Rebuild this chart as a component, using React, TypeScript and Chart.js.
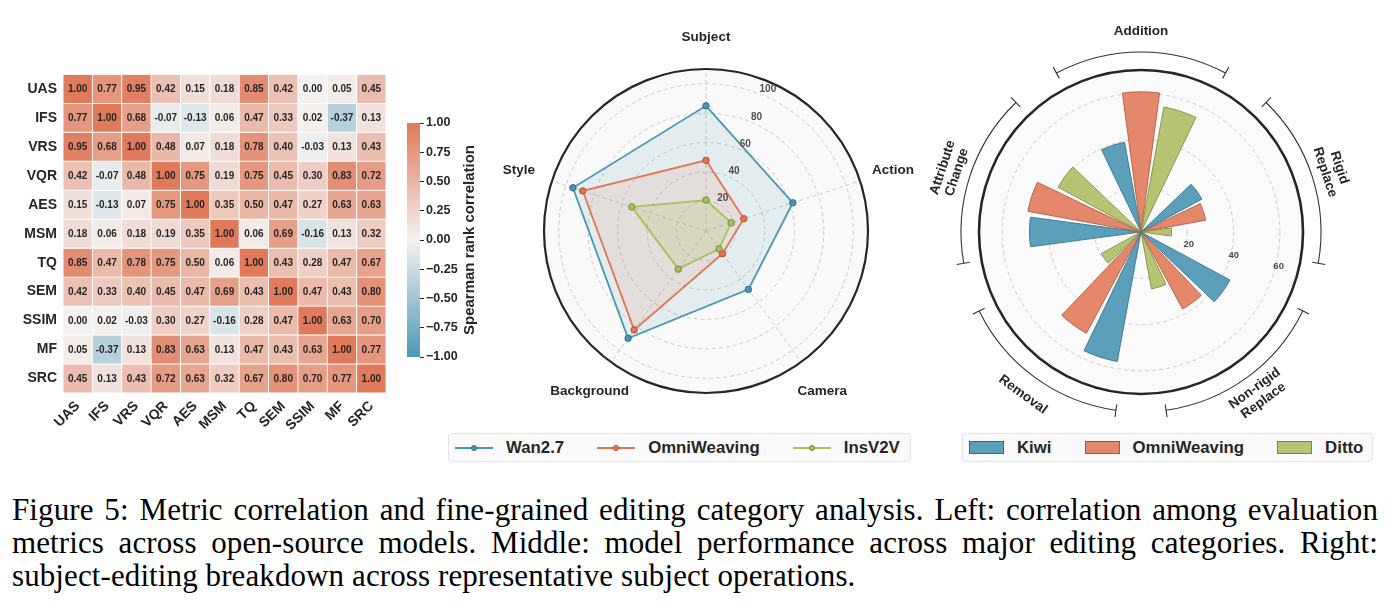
import React, { useEffect, useRef } from 'react';
import { Chart, registerables } from 'chart.js';

Chart.register(...registerables);

const SANS = "'Liberation Sans', Arial, Helvetica, sans-serif";
const SERIF = "'Liberation Serif', 'Times New Roman', serif";
Chart.defaults.font.family = SANS;
Chart.defaults.color = '#262626';

// ---------------- Left panel: Spearman correlation between metrics ----------------
const metrics = ['UAS', 'IFS', 'VRS', 'VQR', 'AES', 'MSM', 'TQ', 'SEM', 'SSIM', 'MF', 'SRC'];
const corrUAS = [1.0, 0.77, 0.95, 0.42, 0.15, 0.18, 0.85, 0.42, 0.0, 0.05, 0.45];
const corrIFS = [0.77, 1.0, 0.68, -0.07, -0.13, 0.06, 0.47, 0.33, 0.02, -0.37, 0.13];
const corrVRS = [0.95, 0.68, 1.0, 0.48, 0.07, 0.18, 0.78, 0.4, -0.03, 0.13, 0.43];
const corrVQR = [0.42, -0.07, 0.48, 1.0, 0.75, 0.19, 0.75, 0.45, 0.3, 0.83, 0.72];
const corrAES = [0.15, -0.13, 0.07, 0.75, 1.0, 0.35, 0.5, 0.47, 0.27, 0.63, 0.63];
const corrMSM = [0.18, 0.06, 0.18, 0.19, 0.35, 1.0, 0.06, 0.69, -0.16, 0.13, 0.32];
const corrTQ = [0.85, 0.47, 0.78, 0.75, 0.5, 0.06, 1.0, 0.43, 0.28, 0.47, 0.67];
const corrSEM = [0.42, 0.33, 0.4, 0.45, 0.47, 0.69, 0.43, 1.0, 0.47, 0.43, 0.8];
const corrSSIM = [0.0, 0.02, -0.03, 0.3, 0.27, -0.16, 0.28, 0.47, 1.0, 0.63, 0.7];
const corrMF = [0.05, -0.37, 0.13, 0.83, 0.63, 0.13, 0.47, 0.43, 0.63, 1.0, 0.77];
const corrSRC = [0.45, 0.13, 0.43, 0.72, 0.63, 0.32, 0.67, 0.8, 0.7, 0.77, 1.0];
const corrRows = [corrUAS, corrIFS, corrVRS, corrVQR, corrAES, corrMSM, corrTQ, corrSEM, corrSSIM, corrMF, corrSRC];
const colorbarTicks = [-1, -0.75, -0.5, -0.25, 0, 0.25, 0.5, 0.75, 1];

// ---------------- Middle panel: scores per editing category ----------------
const radarCategories = ['Subject', 'Action', 'Camera', 'Background', 'Style'];
const wanScores = [85, 62, 49, 90, 95];
const omniRadarScores = [48, 27, 19, 83, 88];
const insScores = [21, 18, 15, 32, 53];
const radarTicks = [20, 40, 60, 80, 100];

// ---------------- Right panel: subject-editing operations ----------------
const editGroups = ['Addition', 'Rigid\nReplace', 'Non-rigid\nReplace', 'Removal', 'Attribute\nChange'];
const kiwiScores = [39.4, 29.9, 43.7, 56.9, 48.2];
const omniEditScores = [60.6, 28.4, 37.8, 49.7, 49.7];
const dittoScores = [54.9, 13.2, 25.0, 19.5, 40.7];
const polarTicks = [20, 40, 60];

const captionLines = [
  'Figure 5: Metric correlation and fine-grained editing category analysis. Left: correlation among evaluation',
  'metrics across open-source models. Middle: model performance across major editing categories. Right:',
  'subject-editing breakdown across representative subject operations.',
];

// ---------------- styling ----------------
const NEG = [76, 154, 182];
const MID = [244, 242, 241];
const POS = [224, 122, 90];
const rgb = (c: number[]) => `rgb(${c.map((v) => Math.round(v)).join(',')})`;
function corrColor(v: number) {
  const t = Math.max(-1, Math.min(1, v));
  const end = t < 0 ? NEG : POS;
  const f = Math.abs(t);
  return rgb(MID.map((c, i) => c + (end[i] - c) * f));
}

const radarSeries = [
  { name: 'Wan2.7', scores: wanScores, line: '#4a97b4', edge: '#2e6f87', fill: 'rgba(74,151,180,0.13)' },
  { name: 'OmniWeaving', scores: omniRadarScores, line: '#e6734f', edge: '#b34f30', fill: 'rgba(230,115,79,0.12)' },
  { name: 'InsV2V', scores: insScores, line: '#a9c05b', edge: '#73883a', fill: 'rgba(169,192,91,0.2)' },
];

const editSeries = [
  { name: 'Kiwi', scores: kiwiScores, fill: '#5b9fba', edge: '#2f6c83' },
  { name: 'OmniWeaving', scores: omniEditScores, fill: '#e5876a', edge: '#a9543a' },
  { name: 'Ditto', scores: dittoScores, fill: '#b7c474', edge: '#76853a' },
];

const deg = (d: number) => (d * Math.PI) / 180;

// ---------------- heatmap ----------------
const cellValuePlugin = {
  id: 'cellValues',
  afterDatasetsDraw(chart: any) {
    const ctx = chart.ctx;
    ctx.save();
    ctx.font = `bold 10px ${SANS}`;
    ctx.fillStyle = '#262626';
    ctx.textAlign = 'center';
    ctx.textBaseline = 'middle';
    corrRows.forEach((row, r) => {
      const meta = chart.getDatasetMeta(r);
      meta.data.forEach((bar: any, c: number) => {
        const p = bar.getProps(['x', 'y', 'base'], true);
        ctx.fillText(row[c].toFixed(2), p.x, (p.y + p.base) / 2 + 0.5);
      });
    });
    ctx.restore();
  },
};

function heatmapConfig(): any {
  return {
    type: 'bar',
    data: {
      labels: metrics,
      datasets: metrics.map((name, r) => ({
        label: name,
        data: metrics.map(() => [r, r + 1]),
        backgroundColor: corrRows[r].map(corrColor),
        borderColor: '#ffffff',
        borderWidth: 0.8,
        borderSkipped: false,
        grouped: false,
        barPercentage: 1,
        categoryPercentage: 1,
      })),
    },
    options: {
      animation: false,
      responsive: false,
      devicePixelRatio: 1,
      layout: { padding: { left: 0, top: 10, right: 14, bottom: 0 } },
      plugins: { legend: { display: false }, tooltip: { enabled: false } },
      scales: {
        x: {
          type: 'category',
          grid: { display: false, drawTicks: false },
          border: { display: false },
          ticks: {
            autoSkip: false,
            minRotation: 45,
            maxRotation: 45,
            padding: 5,
            color: '#262626',
            font: { size: 14, weight: 'bold' },
          },
          afterFit: (s: any) => {
            s.height = 47;
          },
        },
        y: {
          type: 'linear',
          min: 0,
          max: metrics.length,
          reverse: true,
          grid: { display: false, drawTicks: false },
          border: { display: false },
          afterBuildTicks: (s: any) => {
            s.ticks = metrics.map((_, i) => ({ value: i + 0.5 }));
          },
          ticks: {
            autoSkip: false,
            padding: 6,
            color: '#262626',
            font: { size: 14, weight: 'bold' },
            callback: (v: number) => metrics[Math.floor(v)],
          },
          afterFit: (s: any) => {
            s.width = 63;
          },
        },
      },
    },
    plugins: [cellValuePlugin],
  };
}

// ---------------- colorbar ----------------
const colorbarTitlePlugin = {
  id: 'colorbarTitle',
  afterDraw(chart: any) {
    const { ctx, chartArea } = chart;
    ctx.save();
    ctx.translate(70, (chartArea.top + chartArea.bottom) / 2);
    ctx.rotate(-Math.PI / 2);
    ctx.font = `bold 15px ${SANS}`;
    ctx.fillStyle = '#262626';
    ctx.textAlign = 'center';
    ctx.textBaseline = 'middle';
    ctx.fillText('Spearman rank correlation', 0, 0);
    ctx.restore();
  },
};

function colorbarConfig(): any {
  return {
    type: 'bar',
    data: {
      labels: ['ρ'],
      datasets: [
        {
          data: [[colorbarTicks[0], colorbarTicks[colorbarTicks.length - 1]]],
          backgroundColor: (c: any) => {
            const area = c.chart.chartArea;
            if (!area) return corrColor(0);
            const g = c.chart.ctx.createLinearGradient(0, area.bottom, 0, area.top);
            g.addColorStop(0, corrColor(-1));
            g.addColorStop(0.5, corrColor(0));
            g.addColorStop(1, corrColor(1));
            return g;
          },
          borderWidth: 0,
          barPercentage: 1,
          categoryPercentage: 1,
        },
      ],
    },
    options: {
      animation: false,
      responsive: false,
      devicePixelRatio: 1,
      layout: { padding: { left: 7, top: 13, right: 0, bottom: 13 } },
      plugins: { legend: { display: false }, tooltip: { enabled: false } },
      scales: {
        x: { display: false },
        y: {
          position: 'right',
          min: -1,
          max: 1,
          afterBuildTicks: (s: any) => {
            s.ticks = colorbarTicks.map((v) => ({ value: v }));
          },
          afterFit: (s: any) => {
            s.width = 60;
          },
          grid: { drawOnChartArea: false, drawTicks: true, tickLength: 4, color: '#262626', lineWidth: 1 },
          border: { display: false },
          ticks: {
            padding: 2,
            color: '#262626',
            font: { size: 12.5, weight: 'bold' },
            callback: (v: number) => (v < 0 ? '\u2212' : '') + Math.abs(v).toFixed(2),
          },
        },
      },
    },
    plugins: [colorbarTitlePlugin],
  };
}

// ---------------- radar ----------------
const radarDecor = {
  id: 'radarDecor',
  beforeDraw(chart: any) {
    const s = chart.scales.r;
    const ctx = chart.ctx;
    ctx.save();
    ctx.beginPath();
    ctx.arc(s.xCenter, s.yCenter, s.drawingArea, 0, Math.PI * 2);
    ctx.fillStyle = '#fafafa';
    ctx.fill();
    ctx.restore();
  },
  afterDraw(chart: any) {
    const s = chart.scales.r;
    const ctx = chart.ctx;
    const cx = s.xCenter;
    const cy = s.yCenter;
    ctx.save();
    ctx.beginPath();
    ctx.arc(cx, cy, s.drawingArea, 0, Math.PI * 2);
    ctx.lineWidth = 2.2;
    ctx.strokeStyle = '#262626';
    ctx.stroke();

    ctx.textAlign = 'center';
    ctx.textBaseline = 'middle';
    ctx.font = `bold 10px ${SANS}`;
    ctx.fillStyle = '#4d4d4d';
    radarTicks.forEach((v) => {
      const d = s.getDistanceFromCenterForValue(v);
      ctx.fillText(String(v), cx + d * Math.sin(deg(22.5)) + 5.5, cy - d * Math.cos(deg(22.5)) - 5.3);
    });

    ctx.font = `bold 13.5px ${SANS}`;
    ctx.fillStyle = '#262626';
    radarCategories.forEach((name, i) => {
      const up = Math.max(0, Math.cos((i * 2 * Math.PI) / radarCategories.length));
      const p = s.getPointPosition(i, s.drawingArea * 1.222 - 4 * up);
      ctx.fillText(name, p.x, p.y);
    });
    ctx.restore();
  },
};

function radarConfig(): any {
  return {
    type: 'radar',
    data: {
      labels: radarCategories,
      datasets: radarSeries.map((m, i) => ({
        label: m.name,
        data: m.scores,
        borderColor: m.line,
        backgroundColor: m.fill,
        borderWidth: 1.8,
        fill: true,
        pointRadius: 3.2,
        pointBackgroundColor: m.line,
        pointBorderColor: m.edge,
        pointBorderWidth: 1,
        order: radarSeries.length - 1 - i,
      })),
    },
    options: {
      animation: false,
      responsive: false,
      devicePixelRatio: 1,
      layout: { padding: { left: 64, right: 72, top: 69, bottom: 37 } },
      elements: { line: { tension: 0 } },
      plugins: { legend: { display: false }, tooltip: { enabled: false } },
      scales: {
        r: {
          min: 0,
          max: 110,
          afterBuildTicks: (s: any) => {
            s.ticks = [0, ...radarTicks].map((v) => ({ value: v }));
          },
          ticks: { display: false },
          pointLabels: { display: false },
          grid: { circular: true, color: '#c6c6c6', lineWidth: 0.9 },
          border: { dash: [4, 3] },
          angleLines: { display: true, color: '#c6c6c6', lineWidth: 0.9, borderDash: [4, 3] },
        },
      },
    },
    plugins: [radarDecor],
  };
}

// ---------------- polar bars ----------------
const BAR_SPAN = 15.3; // angular width of one bar, degrees
const BAR_STEP = 18; // distance between bar centres within a group
const GROUP_STEP = 360 / editGroups.length;

const slotValues: number[] = [];
const slotAngles: number[] = [];
const slotFill: string[] = [];
const slotEdge: string[] = [];
const slotLabels: string[] = [];
editGroups.forEach((g, gi) => {
  editSeries.forEach((m, mi) => {
    slotValues.push(m.scores[gi]);
    slotAngles.push(BAR_SPAN);
    slotFill.push(m.fill);
    slotEdge.push(m.edge);
    slotLabels.push(`${g.replace('\n', ' ')} · ${m.name}`);
    const gap =
      mi < editSeries.length - 1
        ? BAR_STEP - BAR_SPAN
        : GROUP_STEP - (editSeries.length - 1) * BAR_STEP - BAR_SPAN;
    slotValues.push(0);
    slotAngles.push(gap);
    slotFill.push('rgba(0,0,0,0)');
    slotEdge.push('rgba(0,0,0,0)');
    slotLabels.push('');
  });
});

const polarDecor = {
  id: 'polarDecor',
  beforeDraw(chart: any) {
    const s = chart.scales.r;
    const ctx = chart.ctx;
    ctx.save();
    ctx.beginPath();
    ctx.arc(s.xCenter, s.yCenter, s.drawingArea, 0, Math.PI * 2);
    ctx.fillStyle = '#fbfbfb';
    ctx.fill();
    ctx.restore();
  },
  afterDraw(chart: any) {
    const s = chart.scales.r;
    const ctx = chart.ctx;
    const cx = s.xCenter;
    const cy = s.yCenter;
    const R = s.drawingArea;
    ctx.save();
    ctx.beginPath();
    ctx.arc(cx, cy, R, 0, Math.PI * 2);
    ctx.lineWidth = 2.6;
    ctx.strokeStyle = '#262626';
    ctx.stroke();

    ctx.textAlign = 'center';
    ctx.textBaseline = 'middle';
    ctx.font = `bold 9.5px ${SANS}`;
    ctx.fillStyle = '#4d4d4d';
    polarTicks.forEach((v) => {
      const d = s.getDistanceFromCenterForValue(v) + 3;
      ctx.fillText(String(v), cx + d * Math.cos(deg(14)), cy + d * Math.sin(deg(14)));
    });

    const arcR = (R * 180) / 162;
    const tickIn = (R * 174) / 162;
    const tickOut = (R * 187) / 162;
    const labelR = (R * 201) / 162;
    ctx.strokeStyle = '#333333';
    ctx.lineWidth = 1.1;
    ctx.font = `bold 13.5px ${SANS}`;
    ctx.fillStyle = '#262626';
    editGroups.forEach((g, gi) => {
      const mid = gi * GROUP_STEP;
      const a0 = deg(mid - 28 - 90);
      const a1 = deg(mid + 28 - 90);
      ctx.beginPath();
      ctx.arc(cx, cy, arcR, a0, a1);
      ctx.stroke();
      [a0, a1].forEach((a) => {
        ctx.beginPath();
        ctx.moveTo(cx + tickIn * Math.cos(a), cy + tickIn * Math.sin(a));
        ctx.lineTo(cx + tickOut * Math.cos(a), cy + tickOut * Math.sin(a));
        ctx.stroke();
      });
      const am = deg(mid - 90);
      let rot = mid;
      if (rot > 90 && rot <= 270) rot -= 180;
      else if (rot > 270) rot -= 360;
      ctx.save();
      ctx.translate(cx + labelR * Math.cos(am), cy + labelR * Math.sin(am));
      ctx.rotate(deg(rot));
      const lines = g.split('\n');
      lines.forEach((ln, li) => ctx.fillText(ln, 0, (li - (lines.length - 1) / 2) * 15));
      ctx.restore();
    });
    ctx.restore();
  },
};

function polarConfig(): any {
  return {
    type: 'polarArea',
    data: {
      labels: slotLabels,
      datasets: [
        {
          data: slotValues,
          angle: (c: any) => slotAngles[c.dataIndex],
          backgroundColor: (c: any) => slotFill[c.dataIndex],
          borderColor: (c: any) => slotEdge[c.dataIndex],
          borderWidth: (c: any) => (slotValues[c.dataIndex] > 0 ? 0.8 : 0),
        },
      ],
    },
    options: {
      animation: false,
      responsive: false,
      devicePixelRatio: 1,
      layout: { padding: { left: 59, right: 93, top: 70, bottom: 36 } },
      plugins: { legend: { display: false }, tooltip: { enabled: false } },
      scales: {
        r: {
          min: 0,
          max: 70,
          startAngle: -(BAR_STEP + BAR_SPAN / 2),
          afterBuildTicks: (s: any) => {
            s.ticks = [0, ...polarTicks].map((v) => ({ value: v }));
          },
          ticks: { display: false },
          pointLabels: { display: false },
          angleLines: { display: false },
          grid: { circular: true, color: '#c8c8c8', lineWidth: 0.9 },
          border: { dash: [4, 3] },
        },
      },
    },
    plugins: [polarDecor],
  };
}

// ---------------- components ----------------
function ChartCanvas({ make, left, top, width, height }: any) {
  const ref = useRef<HTMLCanvasElement>(null);
  useEffect(() => {
    const chart = new Chart(ref.current as HTMLCanvasElement, make());
    return () => chart.destroy();
  }, []);
  return (
    <canvas
      ref={ref}
      width={width}
      height={height}
      style={{ position: 'absolute', left, top, width, height }}
    />
  );
}

function Legend({ left, width, items }: any) {
  return (
    <div
      style={{
        position: 'absolute',
        left,
        top: 433,
        width,
        height: 29,
        boxSizing: 'border-box',
        border: '1px solid #e4e4e4',
        borderRadius: 4,
        background: '#fafafa',
        display: 'flex',
        alignItems: 'center',
        paddingLeft: 6,
        gap: 33,
        fontFamily: SANS,
        fontWeight: 'bold',
        fontSize: 16.8,
        color: '#262626',
      }}
    >
      {items.map((it: any) => (
        <div key={it.name} style={{ display: 'flex', alignItems: 'center' }}>
          {it.kind === 'line' ? (
            <div style={{ position: 'relative', width: 38, height: 12 }}>
              <div style={{ position: 'absolute', left: 0, right: 0, top: 5, height: 2, background: it.color }} />
              <div
                style={{
                  position: 'absolute',
                  left: 16,
                  top: 3,
                  width: 6,
                  height: 6,
                  boxSizing: 'border-box',
                  borderRadius: '50%',
                  background: it.color,
                  border: `1px solid ${it.edge}`,
                }}
              />
            </div>
          ) : (
            <div
              style={{
                width: 35,
                height: 13,
                boxSizing: 'border-box',
                background: it.color,
                border: `1px solid ${it.edge}`,
              }}
            />
          )}
          <span style={{ marginLeft: 13, lineHeight: '20px' }}>{it.name}</span>
        </div>
      ))}
    </div>
  );
}

export default function App() {
  const radarLegend = radarSeries.map((m) => ({ name: m.name, color: m.line, edge: m.edge, kind: 'line' }));
  const editLegend = editSeries.map((m) => ({ name: m.name, color: m.fill, edge: m.edge, kind: 'patch' }));
  return (
    <div style={{ position: 'absolute', left: 0, top: 0, width: 1396, height: 613, background: '#ffffff', overflow: 'hidden' }}>
      <ChartCanvas make={heatmapConfig} left={0} top={60} width={400} height={380} />
      <ChartCanvas make={colorbarConfig} left={400} top={110} width={80} height={260} />
      <ChartCanvas make={radarConfig} left={480} top={0} width={460} height={430} />
      <ChartCanvas make={polarConfig} left={920} top={0} width={476} height={430} />
      <Legend left={448} width={463} items={radarLegend} />
      <Legend left={962} width={411} items={editLegend} />
      <div
        style={{
          position: 'absolute',
          left: 12,
          top: 493,
          width: 1366,
          fontFamily: SERIF,
          fontSize: 31,
          lineHeight: '33px',
          letterSpacing: 0.1,
          color: '#000000',
        }}
      >
        {captionLines.map((line, i) => {
          const full = i < captionLines.length - 1;
          return (
            <div
              key={i}
              style={{ whiteSpace: 'nowrap', textAlign: full ? 'justify' : 'left', textAlignLast: full ? 'justify' : 'left' } as any}
            >
              {line}
            </div>
          );
        })}
      </div>
    </div>
  );
}
